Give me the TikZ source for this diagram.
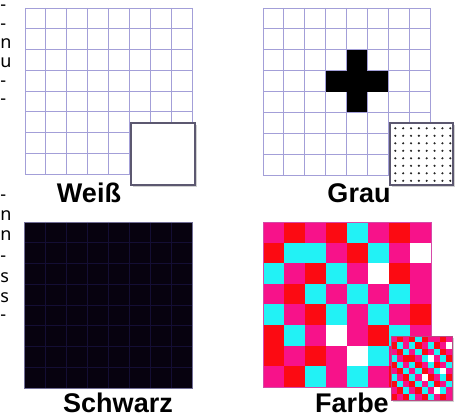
\documentclass[tikz,border=0pt]{standalone}
\usepackage{fontspec}
\setmainfont{Liberation Sans}
\newfontfamily\sidefont{Noto Sans}
\definecolor{gridc}{HTML}{A39FD8}
\definecolor{insetc}{HTML}{5C5870}
\definecolor{blk}{HTML}{07020F}
\definecolor{blkgrid}{HTML}{140E34}
\definecolor{cP}{HTML}{F7128A}
\definecolor{cR}{HTML}{FC0A12}
\definecolor{cC}{HTML}{22F2F5}
\definecolor{cW}{HTML}{FFFFFF}
\tikzset{
  gl/.style={draw=gridc, line width=0.9pt},
  bgl/.style={draw=blkgrid, line width=0.8pt},
  insetbox/.style={draw=insetc, line width=1.3pt, fill=white},
  shadowbox/.style={fill=black!18},
  lbl/.style={font=\bfseries\fontsize{27}{30}\selectfont, anchor=base, inner sep=0pt},
  side/.style={font=\sidefont\fontsize{18}{20}\selectfont, anchor=base west, inner sep=0pt, text height=10pt, text depth=0pt},
}
\begin{document}
\begin{tikzpicture}[x=1pt,y=-1pt]
\useasboundingbox (0,0) rectangle (458,419);
% left text fragments
\foreach \t/\yy [count=\n] in {-/11,-/30,n/49,u/68,-/87,-/105,-/201,n/221,n/241,-/262,s/283,s/303,-/321}
  \node[side] (s\n) at (0.3,\yy) {\t};

% ---- top-left: white grid
\foreach \i in {0,...,8} {
  \draw[gl] (25+\i*20.875,8) -- (25+\i*20.875,174);
  \draw[gl] (25,8+\i*20.75) -- (192,8+\i*20.75);
}
\fill[shadowbox] (133,125) rectangle (197,187);
\draw[insetbox] (131,123) rectangle (195,185);
\node[lbl] (weiss) at (89,203) {Weiß};

% ---- top-right: grey grid with cross
\foreach \i in {0,...,8} {
  \draw[gl] (263+\i*20.875,8) -- (263+\i*20.875,175);
  \draw[gl] (263,8+\i*20.875) -- (430,8+\i*20.875);
}
\fill[black] (346.5,50) rectangle (367.4,112.5);
\fill[black] (325.6,70.8) rectangle (388.3,91.7);
\fill[shadowbox] (392,125) rectangle (455,187);
\draw[insetbox] (390,123) rectangle (453,185);
\foreach \i in {0,...,7}
  \foreach \j in {0,...,7}
    \fill[black!85] (395.3+\i*7.85,128.3+\j*7.5) circle (1.2);
\node[lbl] (grau) at (359,203) {Grau};

% ---- bottom-left: black
\fill[blk] (24,222) rectangle (192,388);
\foreach \i in {1,...,7} {
  \draw[bgl] (24+\i*21,222) -- (24+\i*21,388);
  \draw[bgl] (24,222+\i*20.75) -- (192,222+\i*20.75);
}
\draw[draw=gridc!70!black, line width=0.8pt] (24,222) rectangle (192,388);
\node[lbl] (schwarz) at (118,413) {Schwarz};

% ---- bottom-right: colour
\foreach \row [count=\r from 0] in {
  {P,R,P,R,C,P,R,P},
  {R,C,C,P,R,C,P,W},
  {C,P,R,C,P,W,R,P},
  {P,R,C,P,C,P,C,P},
  {C,P,R,C,P,C,P,R},
  {R,C,P,W,P,R,C,P},
  {R,P,R,P,W,C,P,R},
  {P,R,C,P,C,P,R,C}} {
  \foreach \c [count=\k from 0] in \row
    \fill[fill=c\c] (263+\k*21,222+\r*20.625) rectangle ++(21,20.625);
}
\draw[draw=cP!60!gridc, line width=0.5pt] (263,222) rectangle (431,387);
\fill[shadowbox] (393,338) rectangle (454,402);
\foreach \row [count=\r from 0] in {
  {P,R,P,R,C,R,P,P,R,P},
  {R,C,P,C,R,P,C,R,P,W},
  {P,R,C,P,C,R,P,C,R,P},
  {C,P,R,R,P,C,W,P,C,R},
  {R,C,P,C,R,P,C,R,P,C},
  {P,R,C,P,C,R,P,C,W,P},
  {C,P,R,C,P,W,R,P,C,R},
  {R,C,P,R,C,P,C,R,P,C},
  {P,R,C,P,R,C,P,W,C,P},
  {R,P,R,C,P,R,C,P,R,P}} {
  \foreach \c [count=\k from 0] in \row
    \fill[fill=c\c] (391+\k*6.1,336+\r*6.4) rectangle ++(6.1,6.4);
}
\draw[draw=cP!50!gray, line width=0.6pt] (391,336) rectangle (452,400);
\node[lbl] (farbe) at (352,413) {Farbe};
\end{tikzpicture}
\end{document}
